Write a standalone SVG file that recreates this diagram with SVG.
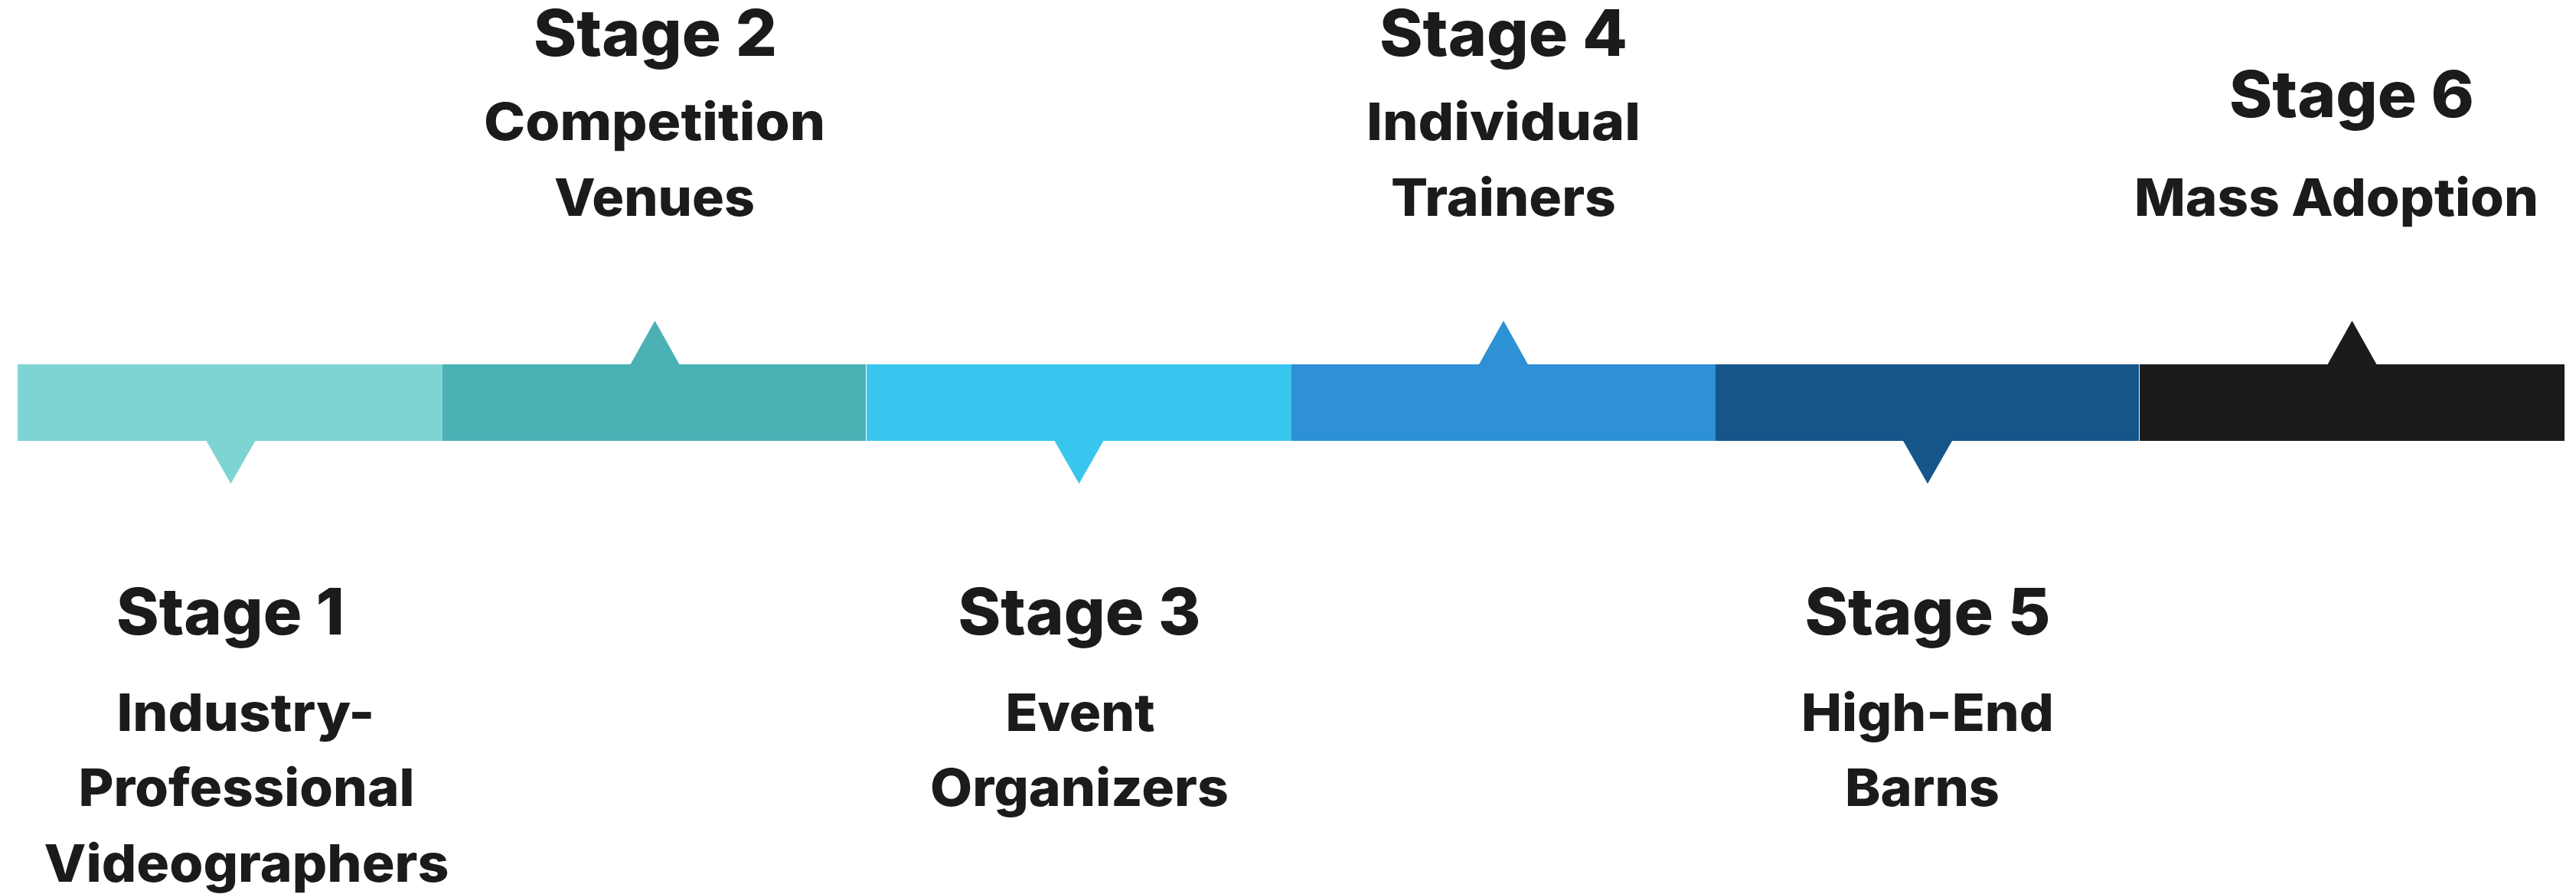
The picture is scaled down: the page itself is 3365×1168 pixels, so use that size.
<svg xmlns="http://www.w3.org/2000/svg" width="3365" height="1168" viewBox="0 0 3365 1168">
<style>
  .bg { fill: #ffffff; }
  .t { font-family: "Inter", "DejaVu Sans", "Liberation Sans", sans-serif; font-weight: 800; fill: #1b1b1b; text-anchor: middle; }
  .h { font-size: 84px; }
  .d { font-size: 68px; }
  .c1 { fill: #7dd4d2; }
  .c2 { fill: #4bb1b5; }
  .c3 { fill: #38c6ef; }
  .c4 { fill: #2e90d5; }
  .c5 { fill: #15558a; }
  .c6 { fill: #1b1b1b; }
</style>
<rect class="bg" x="0" y="0" width="3365" height="1168"/>

<g id="stage1">
  <rect class="c1" x="23" y="476" width="555" height="100"/>
  <polygon class="c1" points="269,575 334,575 301.5,632"/>
  <text class="t h" x="301" y="829" textLength="298" lengthAdjust="spacingAndGlyphs">Stage 1</text>
  <text class="t d" x="321" y="955" textLength="337" lengthAdjust="spacingAndGlyphs">Industry-</text>
  <text class="t d" x="322" y="1053" textLength="439" lengthAdjust="spacingAndGlyphs">Professional</text>
  <text class="t d" x="322" y="1152" textLength="529" lengthAdjust="spacingAndGlyphs">Videographers</text>
</g>

<g id="stage2">
  <rect class="c2" x="578" y="476" width="553" height="100"/>
  <polygon class="c2" points="823,477 888,477 855.5,419"/>
  <text class="t h" x="856" y="73" textLength="318" lengthAdjust="spacingAndGlyphs">Stage 2</text>
  <text class="t d" x="855" y="183" textLength="446" lengthAdjust="spacingAndGlyphs">Competition</text>
  <text class="t d" x="855" y="282" textLength="262" lengthAdjust="spacingAndGlyphs">Venues</text>
</g>

<g id="stage3">
  <rect class="c3" x="1132" y="476" width="555" height="100"/>
  <polygon class="c3" points="1377,575 1442,575 1409.5,632"/>
  <text class="t h" x="1410" y="829" textLength="317" lengthAdjust="spacingAndGlyphs">Stage 3</text>
  <text class="t d" x="1411" y="955" textLength="195" lengthAdjust="spacingAndGlyphs">Event</text>
  <text class="t d" x="1410" y="1053" textLength="390" lengthAdjust="spacingAndGlyphs">Organizers</text>
</g>

<g id="stage4">
  <rect class="c4" x="1687" y="476" width="554" height="100"/>
  <polygon class="c4" points="1931.5,477 1996.5,477 1964,419"/>
  <text class="t h" x="1964" y="73" textLength="324" lengthAdjust="spacingAndGlyphs">Stage 4</text>
  <text class="t d" x="1964" y="183" textLength="358" lengthAdjust="spacingAndGlyphs">Individual</text>
  <text class="t d" x="1964" y="282" textLength="294" lengthAdjust="spacingAndGlyphs">Trainers</text>
</g>

<g id="stage5">
  <rect class="c5" x="2241" y="476" width="553" height="100"/>
  <polygon class="c5" points="2485.5,575 2550.5,575 2518,632"/>
  <text class="t h" x="2518" y="829" textLength="321" lengthAdjust="spacingAndGlyphs">Stage 5</text>
  <text class="t d" x="2518" y="955" textLength="330" lengthAdjust="spacingAndGlyphs">High-End</text>
  <text class="t d" x="2511" y="1053" textLength="202" lengthAdjust="spacingAndGlyphs">Barns</text>
</g>

<g id="stage6">
  <rect class="c6" x="2795" y="476" width="555" height="100"/>
  <polygon class="c6" points="3040,477 3105,477 3072.5,419"/>
  <text class="t h" x="3072" y="153" textLength="320" lengthAdjust="spacingAndGlyphs">Stage 6</text>
  <text class="t d" x="3052" y="282" textLength="528" lengthAdjust="spacingAndGlyphs">Mass Adoption</text>
</g>
</svg>
